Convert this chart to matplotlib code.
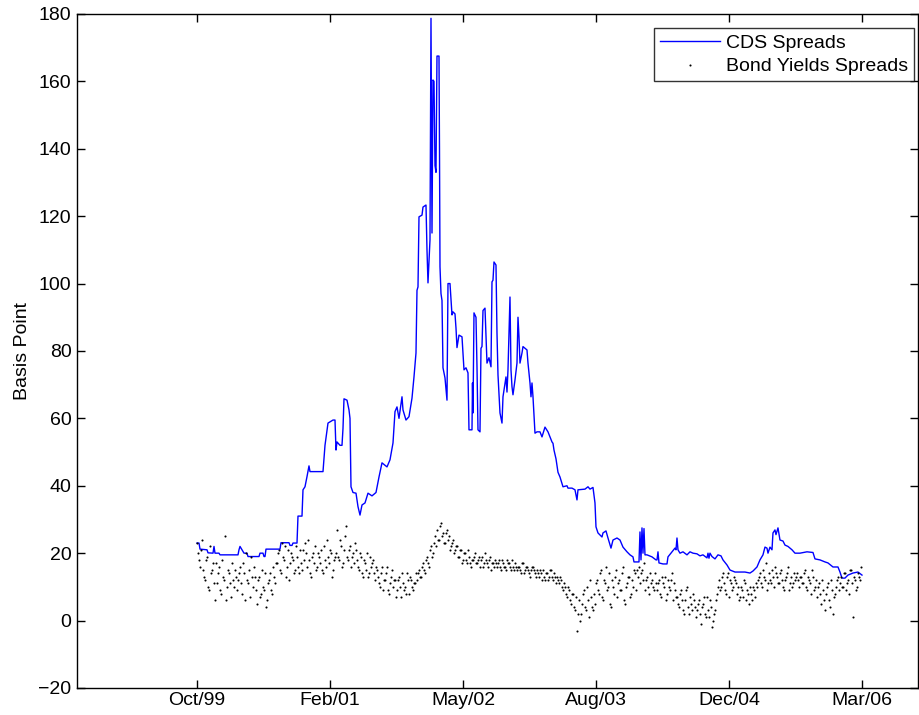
import matplotlib
matplotlib.use("Agg")
import matplotlib.pyplot as plt
import numpy as np

plt.rcParams['font.family'] = ['Liberation Sans', 'DejaVu Sans']

# x axis: observation number
tick_obs = [0, 266, 532, 798, 1064, 1330]
tick_labels = ['Oct/99', 'Feb/01', 'May/02', 'Aug/03', 'Dec/04', 'Mar/06']

# CDS spreads (obs, basis points) at its turning points
cds_points = [
    (0, 23.0), (4, 23.0), (6, 21.2), (20, 21.0), (22, 20.1), (32, 20.0),
    (34, 22.0), (36, 20.0), (44, 20.0), (46, 19.5), (82, 19.5), (84, 21.0),
    (86, 22.0), (90, 21.0), (94, 20.0), (100, 20.0), (102, 19.0), (124, 19.0),
    (126, 20.0), (132, 20.0), (134, 19.0), (136, 19.0), (138, 21.2), (166, 21.2),
    (168, 23.1), (184, 23.1), (186, 22.3), (190, 22.3), (192, 23.0), (200, 23.0),
    (202, 31.0), (210, 31.0), (212, 38.8), (216, 39.7), (220, 42.7), (224, 45.9),
    (226, 44.2), (252, 44.2), (256, 52.0), (260, 56.5), (262, 58.6), (272, 59.5),
    (276, 59.5), (278, 50.6), (280, 53.0), (286, 52.0), (290, 52.0), (292, 57.0),
    (294, 65.8), (300, 65.4), (304, 62.5), (306, 60.0), (308, 39.7), (312, 38.0),
    (318, 37.8), (322, 33.8), (326, 31.3), (330, 34.3), (336, 34.9), (342, 37.8),
    (350, 37.0), (358, 38.0), (364, 42.6), (370, 46.8), (380, 45.6), (386, 47.7),
    (392, 52.7), (396, 62.0), (400, 63.4), (404, 60.0), (410, 66.4), (412, 62.5),
    (418, 59.5), (424, 60.5), (430, 66.0), (434, 72.3), (438, 79.4), (440, 98.0),
    (442, 99.0), (444, 119.8), (450, 120.3), (452, 122.7), (458, 123.3),
    (460, 110.0), (462, 100.2), (466, 113.0), (468, 178.7), (470, 115.0),
    (472, 160.4), (474, 160.0), (476, 135.0), (478, 133.0), (480, 167.5),
    (484, 167.5), (485, 140.0), (486, 105.0), (488, 97.0), (490, 95.0),
    (492, 75.0), (496, 72.0), (500, 65.4), (502, 100.0), (506, 100.0),
    (510, 90.7), (512, 91.6), (516, 91.0), (518, 86.8), (520, 81.0), (524, 84.7),
    (530, 84.2), (534, 74.4), (538, 75.0), (542, 73.5), (544, 56.6), (550, 56.6),
    (551, 70.5), (552, 61.6), (554, 91.3), (558, 90.0), (560, 75.3), (562, 56.6),
    (566, 56.0), (568, 80.8), (570, 81.3), (572, 92.0), (576, 92.7), (580, 76.4),
    (584, 78.0), (588, 75.3), (590, 100.5), (592, 101.0), (594, 106.4),
    (598, 105.5), (600, 85.3), (602, 72.9), (606, 61.6), (610, 58.6), (612, 66.4),
    (618, 72.3), (620, 67.8), (622, 74.4), (626, 96.0), (628, 74.4), (630, 69.4),
    (632, 67.0), (636, 71.4), (640, 76.4), (642, 90.0), (644, 84.2), (646, 76.4),
    (650, 79.4), (652, 81.3), (660, 80.3), (662, 76.4), (666, 70.5), (668, 66.4),
    (670, 70.5), (672, 66.4), (676, 55.6), (680, 56.0), (686, 56.0), (690, 54.5),
    (696, 57.4), (702, 56.0), (710, 53.0), (712, 52.6), (714, 50.6), (718, 48.0),
    (722, 44.0), (726, 42.6), (732, 39.7), (740, 40.0), (742, 39.3), (750, 39.3),
    (756, 38.8), (760, 35.8), (762, 38.8), (776, 39.0), (782, 39.7), (786, 39.0),
    (792, 39.5), (796, 34.9), (798, 27.8), (802, 26.0), (810, 24.8), (812, 26.0),
    (818, 26.6), (822, 24.5), (828, 21.5), (832, 23.9), (840, 24.5), (846, 23.9),
    (852, 21.8), (860, 20.4), (866, 19.5), (872, 18.9), (874, 17.4), (884, 17.4),
    (886, 26.3), (888, 18.0), (890, 27.5), (892, 20.0), (894, 27.3), (896, 19.5),
    (900, 19.5), (910, 18.9), (918, 18.0), (920, 18.0), (922, 20.4), (924, 17.1),
    (932, 16.8), (940, 16.8), (942, 18.9), (950, 20.4), (956, 21.5), (958, 21.0),
    (960, 24.5), (962, 21.0), (966, 20.0), (972, 20.4), (980, 19.5), (986, 20.4),
    (992, 20.0), (1000, 19.8), (1006, 19.2), (1012, 19.5), (1020, 18.6),
    (1022, 20.0), (1024, 18.5), (1026, 20.0), (1030, 19.0), (1036, 18.3),
    (1042, 19.5), (1048, 19.2), (1052, 18.0), (1060, 16.5), (1066, 15.0),
    (1076, 14.4), (1086, 14.4), (1096, 14.4), (1106, 14.1), (1112, 14.7),
    (1120, 15.9), (1126, 18.0), (1132, 19.5), (1136, 21.8), (1140, 21.5),
    (1142, 20.0), (1146, 21.8), (1150, 21.0), (1152, 26.0), (1156, 26.9),
    (1158, 25.5), (1162, 27.5), (1166, 23.9), (1172, 23.6), (1176, 22.4),
    (1182, 22.0), (1190, 21.0), (1196, 20.0), (1206, 20.0), (1220, 20.4),
    (1232, 20.2), (1236, 18.3), (1246, 18.0), (1256, 17.4), (1262, 17.1),
    (1272, 15.9), (1282, 15.9), (1286, 14.4), (1290, 12.6), (1296, 12.6),
    (1302, 13.5), (1312, 14.1), (1322, 14.4), (1330, 13.5),
]
cds_obs = [p[0] for p in cds_points]
cds_bp = [p[1] for p in cds_points]

# bond yield spreads at obs 0, 4, 8, ...
bond_bp_a = [23, 18, 21, 15, 12, 19, 9, 14, 17, 6,
             11, 16, 8, 13, 25, 10, 14, 7, 12, 15,
             9, 14, 11, 17, 6, 12, 15, 19, 10, 13,
             5, 13, 8, 10, 14, 6, 12, 9, 16, 11,
             17, 21, 14, 19, 22, 16, 12, 20, 18, 15,
             19, 14, 17, 21, 23, 16, 18, 13, 20, 22,
             16, 19, 21, 14, 18, 24, 17, 20, 15, 19,
             27, 18, 22, 17, 25, 19, 21, 16, 20, 23,
             18, 15, 19, 13, 17, 20, 14, 16, 18, 12,
             15, 11, 14, 9, 12, 16, 8, 13, 10, 12,
             9, 13, 7, 11, 10, 14, 8, 12, 9, 11,
             12, 15, 13, 17, 14, 19, 16, 22, 20, 25,
             27, 24, 29, 26, 23, 27, 25, 22, 24, 21,
             22, 19, 21, 18, 20, 17, 19, 16, 18, 20,
             17, 19, 18, 16, 20, 17, 18, 15, 17, 18,
             16, 18, 15, 17, 16, 18, 17, 15, 16, 17,
             15, 16, 14, 17, 15, 16, 14, 15, 16, 14,
             15, 13, 14, 15, 12, 14, 13, 15, 12, 13,
             13, 11, 12, 9, 10, 7, 9, 5, 8, 3,
             -3, 6, 2, 8, 4, 10, 1, 7, 3, 5,
             12, 8, 15, 6, 11, 9, 14, 4, 10, 13,
             7, 12, 9, 16, 5, 11, 13, 8, 10, 14,
             15, 16, 14, 12, 9, 13, 8, 11, 10, 14,
             9, 12, 7, 11, 13, 8, 10, 12, 6, 9,
             7, 4, 9, 3, 6, 10, 2, 5, 8, 4,
             3, 6, -1, 5, 2, 7, 1, 4, 0, 3,
             8, 12, 10, 14, 9, 13, 7, 11, 10, 12,
             8, 6, 10, 7, 11, 9, 5, 8, 10, 7,
             10, 13, 11, 15, 12, 9, 14, 11, 13, 16,
             13, 11, 15, 10, 12, 14, 9, 13, 11, 12,
             14, 10, 13, 11, 15, 9, 12, 8, 13, 10,
             7, 11, 5, 9, 3, 10, 6, 12, 2, 8,
             12, 9, 13, 10, 14, 11, 8, 15, 1, 12, 10, 13, 16]
# bond yield spreads at obs 2, 6, 10, ...
bond_bp_b = [20, 16, 24, 13, 18, 10, 22, 15, 11, 17,
             14, 9, 18, 12, 6, 15, 11, 17, 10, 13,
             12, 16, 8, 14, 20, 11, 7, 13, 16, 9,
             12, 7, 15, 9, 4, 11, 14, 8, 13, 17,
             20, 15, 23, 18, 13, 21, 17, 19, 14, 22,
             16, 21, 15, 18, 20, 24, 14, 19, 17, 15,
             20, 17, 15, 22, 16, 19, 21, 13, 18, 20,
             19, 24, 16, 21, 28, 18, 22, 19, 17, 21,
             16, 20, 14, 18, 15, 13, 19, 17, 14, 16,
             13, 10, 16, 12, 14, 9, 11, 15, 12, 7,
             12, 10, 14, 9, 8, 12, 13, 10, 11, 14,
             14, 13, 16, 15, 18, 17, 21, 19, 23, 22,
             24, 28, 25, 23, 26, 24, 21, 23, 20, 22,
             19, 21, 17, 20, 18, 21, 17, 18, 19, 17,
             18, 16, 19, 17, 18, 16, 19, 17, 16, 17,
             17, 16, 18, 16, 15, 17, 16, 18, 15, 16,
             16, 15, 17, 14, 16, 15, 13, 16, 15, 13,
             14, 15, 12, 13, 14, 12, 15, 13, 14, 11,
             12, 13, 10, 11, 8, 10, 6, 8, 4, 7,
             2, 0, 5, 9, 3, 6, 12, 4, 8, 11,
             9, 14, 7, 12, 16, 10, 5, 12, 8, 15,
             11, 9, 14, 6, 10, 13, 7, 12, 15, 9,
             13, 11, 15, 17, 12, 10, 14, 12, 9, 11,
             11, 8, 13, 10, 6, 12, 9, 14, 11, 7,
             5, 8, 6, 2, 9, 4, 7, 3, 6, 1,
             5, 2, 4, 7, 1, 3, 6, -2, 2, 6,
             10, 9, 13, 11, 8, 14, 12, 9, 13, 11,
             10, 7, 9, 12, 6, 8, 10, 6, 9, 11,
             12, 14, 10, 13, 17, 11, 12, 15, 10, 14,
             11, 14, 12, 9, 13, 16, 11, 10, 14, 13,
             12, 13, 11, 14, 10, 13, 11, 15, 9, 12,
             10, 8, 12, 6, 8, 11, 4, 9, 7, 10,
             13, 11, 10, 14, 9, 12, 15, 11, 13, 9, 14, 12]

bond_obs = np.concatenate([np.arange(len(bond_bp_a)) * 4,
                           np.arange(len(bond_bp_b)) * 4 + 2])
bond_bp = np.concatenate([bond_bp_a, bond_bp_b])
order = np.argsort(bond_obs)
bond_obs, bond_bp = bond_obs[order], bond_bp[order]

fig = plt.figure(figsize=(9.2, 7.15), dpi=100)
ax = fig.add_axes([0.0837, 0.0378, 0.9141, 0.9427])

ax.plot(cds_obs, cds_bp, color='blue', lw=1.0, label='CDS Spreads')
ax.plot(bond_obs, bond_bp, ls='none', marker='o', ms=1.5, mew=0,
        color='black', label='Bond Yields Spreads')

ax.set_xlim(-240, 1442)
ax.set_ylim(-20, 180)
ax.set_xticks(tick_obs)
ax.set_xticklabels(tick_labels)
ax.set_yticks(np.arange(-20, 181, 20))
ax.set_ylabel('Basis Point', fontsize=14, labelpad=5)
ax.tick_params(direction='in', length=6, width=1, labelsize=14,
               top=True, right=True)
ax.tick_params(axis='y', pad=4)
ax.tick_params(axis='x', pad=3)
for sp in ax.spines.values():
    sp.set_linewidth(1.0)

leg = ax.legend(loc='upper right', bbox_to_anchor=(0.9952, 0.979),
                borderaxespad=0, fancybox=False, fontsize=14,
                handlelength=3.1, handletextpad=0.3, labelspacing=0.32,
                borderpad=0.3)
leg.get_frame().set_edgecolor('black')
leg.get_frame().set_linewidth(1.0)

fig.savefig('out.png', dpi=100)
